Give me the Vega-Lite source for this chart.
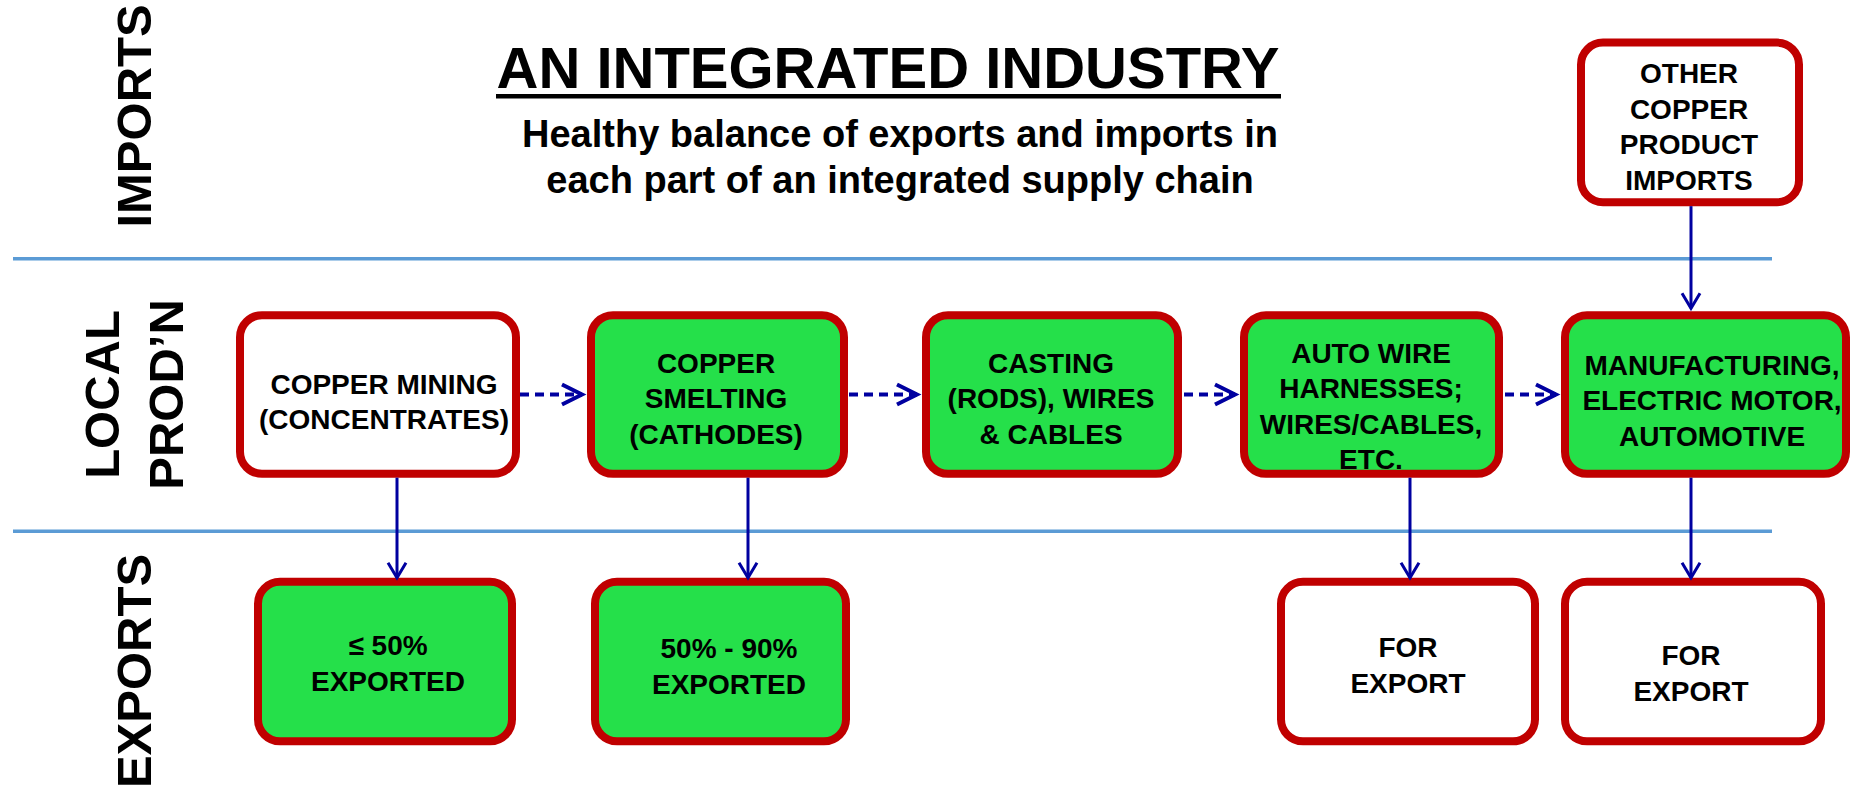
{
  "$schema": "https://vega.github.io/schema/vega-lite/v6.json",
  "width": 1852,
  "height": 788,
  "autosize": {"type": "fit", "contains": "padding"},
  "padding": 0,
  "background": "#ffffff",
  "config": {"view": {"stroke": null}},
  "datasets": {
    "separators": [
      {"x0": 13, "x1": 1772, "y": 261},
      {"x0": 13, "x1": 1772, "y": 536}
    ],
    "boxes": [
      {"id": "mining", "x0": 240, "x1": 516, "y0": 318, "y1": 478, "kind": "white"},
      {"id": "smelting", "x0": 591, "x1": 844, "y0": 318, "y1": 478, "kind": "green"},
      {"id": "casting", "x0": 926, "x1": 1178, "y0": 318, "y1": 478, "kind": "green"},
      {"id": "harness", "x0": 1244, "x1": 1499, "y0": 318, "y1": 478, "kind": "green"},
      {"id": "manufacturing", "x0": 1565, "x1": 1846, "y0": 318, "y1": 478, "kind": "green"},
      {"id": "imports", "x0": 1581, "x1": 1799, "y0": 43, "y1": 204, "kind": "white"},
      {"id": "exp1", "x0": 258, "x1": 512, "y0": 587, "y1": 748, "kind": "green"},
      {"id": "exp2", "x0": 595, "x1": 846, "y0": 587, "y1": 748, "kind": "green"},
      {"id": "exp3", "x0": 1281, "x1": 1535, "y0": 587, "y1": 748, "kind": "white"},
      {"id": "exp4", "x0": 1565, "x1": 1821, "y0": 587, "y1": 748, "kind": "white"}
    ],
    "boxLabels": [
      {"label": "COPPER MINING\n(CONCENTRATES)", "x": 384, "y": 389},
      {"label": "COPPER\nSMELTING\n(CATHODES)", "x": 716, "y": 368},
      {"label": "CASTING\n(RODS), WIRES\n& CABLES", "x": 1051, "y": 368},
      {"label": "AUTO WIRE\nHARNESSES;\nWIRES/CABLES,\nETC.", "x": 1371, "y": 358},
      {"label": "MANUFACTURING,\nELECTRIC MOTOR,\nAUTOMOTIVE", "x": 1712, "y": 370},
      {"label": "OTHER\nCOPPER\nPRODUCT\nIMPORTS", "x": 1689, "y": 76},
      {"label": "≤ 50%\nEXPORTED", "x": 388, "y": 653},
      {"label": "50% - 90%\nEXPORTED", "x": 729, "y": 656},
      {"label": "FOR\nEXPORT", "x": 1408, "y": 655},
      {"label": "FOR\nEXPORT", "x": 1691, "y": 663}
    ],
    "sideLabels": [
      {"label": "IMPORTS", "x": 136, "y": 117},
      {"label": "LOCAL", "x": 104, "y": 398},
      {"label": "PROD’N", "x": 168, "y": 398},
      {"label": "EXPORTS", "x": 136, "y": 677}
    ],
    "title": [
      {"label": "AN INTEGRATED INDUSTRY", "x": 888, "y": 89, "ux0": 496, "ux1": 1281, "uy": 97}
    ],
    "subtitle": [
      {"label": "Healthy balance of exports and imports in", "x": 900, "y": 148},
      {"label": "each part of an integrated supply chain", "x": 900, "y": 195}
    ],
    "flows": [
      {"x": 397, "y0": 482, "y1": 583},
      {"x": 748, "y0": 482, "y1": 583},
      {"x": 1410, "y0": 482, "y1": 583},
      {"x": 1691, "y0": 482, "y1": 583},
      {"x": 1691, "y0": 208, "y1": 311}
    ],
    "chain": [
      {"x0": 520, "x1": 582, "y": 398},
      {"x0": 849, "x1": 917, "y": 398},
      {"x0": 1184, "x1": 1235, "y": 398},
      {"x0": 1505, "x1": 1556, "y": 398}
    ]
  },
  "layer": [
    {
      "data": {"name": "separators"},
      "mark": {"type": "rule", "color": "#5b9bd5", "strokeWidth": 3.5},
      "encoding": {
        "x": {"field": "x0", "type": "quantitative", "scale": {"domain": [0, 1852], "nice": false, "zero": false}, "axis": null},
        "x2": {"field": "x1"},
        "y": {"field": "y", "type": "quantitative", "scale": {"domain": [0, 788], "nice": false, "zero": false, "reverse": true}, "axis": null}
      }
    },
    {
      "data": {"name": "boxes"},
      "mark": {"type": "rect", "cornerRadius": 22, "stroke": "#c00000", "strokeWidth": 8},
      "encoding": {
        "x": {"field": "x0", "type": "quantitative", "scale": {"domain": [0, 1852], "nice": false, "zero": false}, "axis": null},
        "x2": {"field": "x1"},
        "y": {"field": "y0", "type": "quantitative", "scale": {"domain": [0, 788], "nice": false, "zero": false, "reverse": true}, "axis": null},
        "y2": {"field": "y1"},
        "fill": {"field": "kind", "type": "nominal", "scale": {"domain": ["green", "white"], "range": ["#25e04a", "#ffffff"]}, "legend": null}
      }
    },
    {
      "data": {"name": "chain"},
      "mark": {"type": "rule", "color": "#0000a0", "strokeWidth": 4, "strokeDash": [9, 6]},
      "encoding": {
        "x": {"field": "x0", "type": "quantitative", "scale": {"domain": [0, 1852], "nice": false, "zero": false}, "axis": null},
        "x2": {"field": "x1"},
        "y": {"field": "y", "type": "quantitative", "scale": {"domain": [0, 788], "nice": false, "zero": false, "reverse": true}, "axis": null}
      }
    },
    {
      "data": {"name": "chain"},
      "mark": {"type": "point", "shape": "M-1,-0.5L0,0L-1,0.5", "size": 1600, "filled": false, "stroke": "#0000a0", "strokeWidth": 4, "opacity": 1},
      "encoding": {
        "x": {"field": "x1", "type": "quantitative", "scale": {"domain": [0, 1852], "nice": false, "zero": false}, "axis": null},
        "y": {"field": "y", "type": "quantitative", "scale": {"domain": [0, 788], "nice": false, "zero": false, "reverse": true}, "axis": null}
      }
    },
    {
      "data": {"name": "flows"},
      "mark": {"type": "rule", "color": "#0000a0", "strokeWidth": 3},
      "encoding": {
        "x": {"field": "x", "type": "quantitative", "scale": {"domain": [0, 1852], "nice": false, "zero": false}, "axis": null},
        "y": {"field": "y0", "type": "quantitative", "scale": {"domain": [0, 788], "nice": false, "zero": false, "reverse": true}, "axis": null},
        "y2": {"field": "y1"}
      }
    },
    {
      "data": {"name": "flows"},
      "mark": {"type": "point", "shape": "M-0.6,-1L0,0L0.6,-1", "size": 900, "filled": false, "stroke": "#0000a0", "strokeWidth": 3, "opacity": 1},
      "encoding": {
        "x": {"field": "x", "type": "quantitative", "scale": {"domain": [0, 1852], "nice": false, "zero": false}, "axis": null},
        "y": {"field": "y1", "type": "quantitative", "scale": {"domain": [0, 788], "nice": false, "zero": false, "reverse": true}, "axis": null}
      }
    },
    {
      "data": {"name": "boxLabels"},
      "mark": {"type": "text", "font": "Liberation Sans", "fontWeight": "bold", "fontSize": 28, "lineHeight": 35.5, "lineBreak": "\n", "align": "center", "baseline": "middle", "color": "#000000"},
      "encoding": {
        "x": {"field": "x", "type": "quantitative", "scale": {"domain": [0, 1852], "nice": false, "zero": false}, "axis": null},
        "y": {"field": "y", "type": "quantitative", "scale": {"domain": [0, 788], "nice": false, "zero": false, "reverse": true}, "axis": null},
        "text": {"field": "label"}
      }
    },
    {
      "data": {"name": "sideLabels"},
      "mark": {"type": "text", "font": "Liberation Sans", "fontWeight": "bold", "fontSize": 49, "angle": 270, "align": "center", "baseline": "middle", "color": "#000000"},
      "encoding": {
        "x": {"field": "x", "type": "quantitative", "scale": {"domain": [0, 1852], "nice": false, "zero": false}, "axis": null},
        "y": {"field": "y", "type": "quantitative", "scale": {"domain": [0, 788], "nice": false, "zero": false, "reverse": true}, "axis": null},
        "text": {"field": "label"}
      }
    },
    {
      "data": {"name": "title"},
      "mark": {"type": "text", "font": "Liberation Sans", "fontWeight": "bold", "fontSize": 58, "align": "center", "baseline": "alphabetic", "color": "#000000"},
      "encoding": {
        "x": {"field": "x", "type": "quantitative", "scale": {"domain": [0, 1852], "nice": false, "zero": false}, "axis": null},
        "y": {"field": "y", "type": "quantitative", "scale": {"domain": [0, 788], "nice": false, "zero": false, "reverse": true}, "axis": null},
        "text": {"field": "label"}
      }
    },
    {
      "data": {"name": "title"},
      "mark": {"type": "rule", "color": "#000000", "strokeWidth": 4.5},
      "encoding": {
        "x": {"field": "ux0", "type": "quantitative", "scale": {"domain": [0, 1852], "nice": false, "zero": false}, "axis": null},
        "x2": {"field": "ux1"},
        "y": {"field": "uy", "type": "quantitative", "scale": {"domain": [0, 788], "nice": false, "zero": false, "reverse": true}, "axis": null}
      }
    },
    {
      "data": {"name": "subtitle"},
      "mark": {"type": "text", "font": "Liberation Sans", "fontWeight": "bold", "fontSize": 38, "align": "center", "baseline": "alphabetic", "color": "#000000"},
      "encoding": {
        "x": {"field": "x", "type": "quantitative", "scale": {"domain": [0, 1852], "nice": false, "zero": false}, "axis": null},
        "y": {"field": "y", "type": "quantitative", "scale": {"domain": [0, 788], "nice": false, "zero": false, "reverse": true}, "axis": null},
        "text": {"field": "label"}
      }
    }
  ]
}
